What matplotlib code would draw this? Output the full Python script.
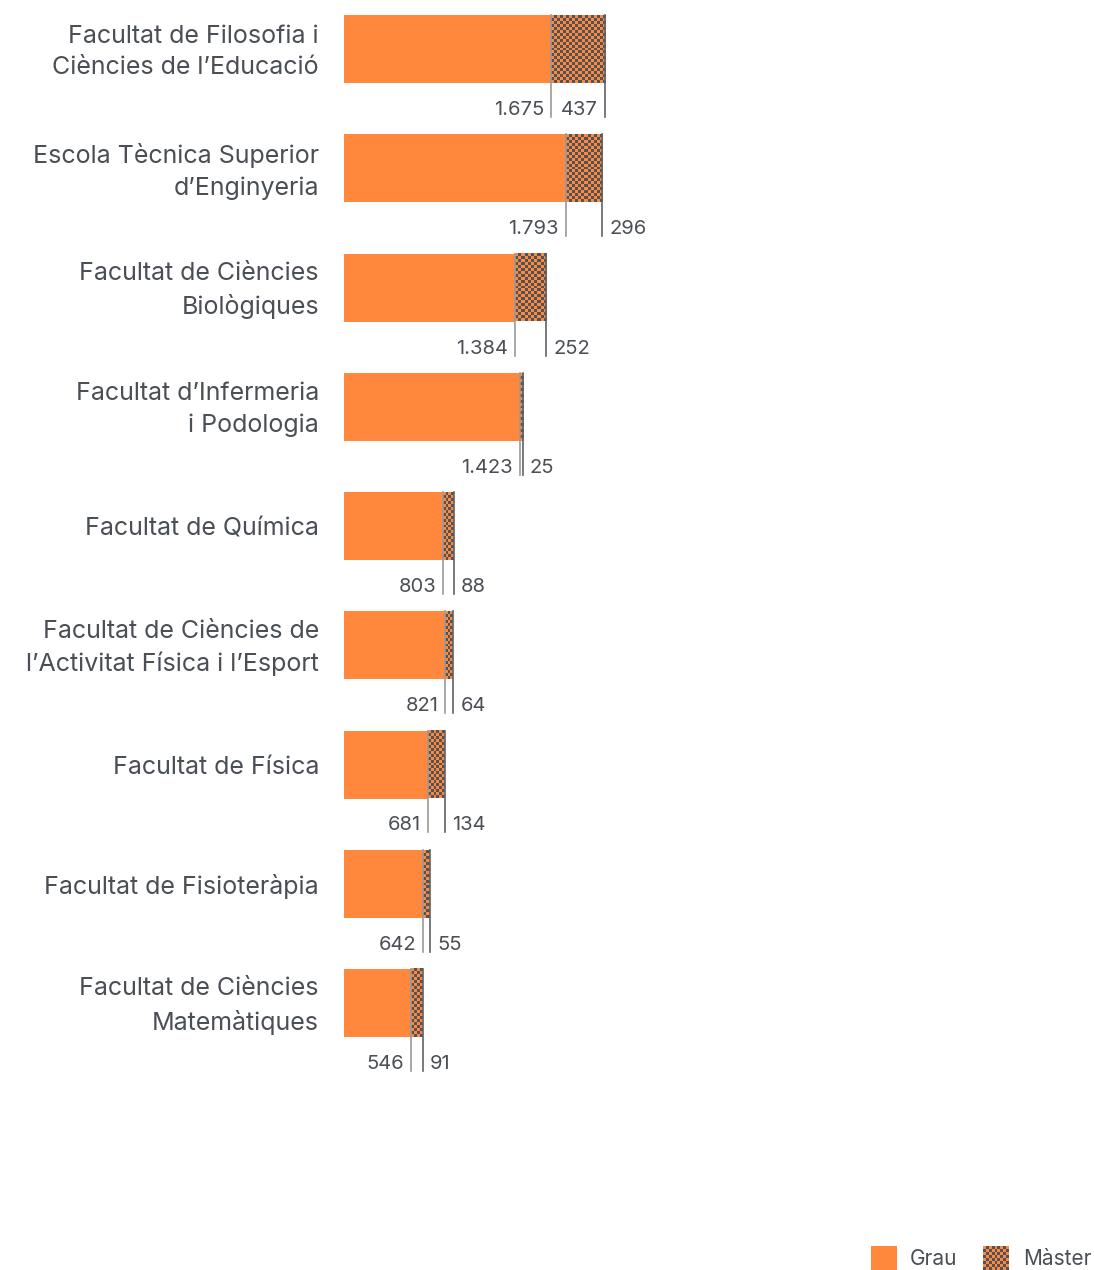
import numpy as np
import matplotlib.pyplot as plt
from matplotlib.colors import ListedColormap

# Students per faculty (Grau / Màster)
faculties = [
    "Facultat de Filosofia i\nCiències de l\u2019Educació",
    "Escola Tècnica Superior\nd\u2019Enginyeria",
    "Facultat de Ciències\nBiològiques",
    "Facultat d\u2019Infermeria\ni Podologia",
    "Facultat de Química",
    "Facultat de Ciències de\nl\u2019Activitat Física i l\u2019Esport",
    "Facultat de Física",
    "Facultat de Fisioteràpia",
    "Facultat de Ciències\nMatemàtiques",
]
grau = [1675, 1793, 1384, 1423, 803, 821, 681, 642, 546]
master = [437, 296, 252, 25, 88, 64, 134, 55, 91]
legend_labels = ["Grau", "Màster"]

ORANGE = "#FF883C"
GRAY = "#4F545B"
TEXT = "#4A4F56"
checker_cmap = ListedColormap([ORANGE, GRAY])

plt.rcParams['font.family'] = ['Inter', 'DejaVu Sans']


def fmt(v):
    return f"{v:,}".replace(",", ".")


def checker(ax, x0, x1, y0, y1, cell_px=3):
    """Fill a rectangle (data coords) with a checkerboard image."""
    p0 = ax.transData.transform((x0, y0))
    p1 = ax.transData.transform((x1, y1))
    nx = max(1, int(round(abs(p1[0] - p0[0]) / cell_px)))
    ny = max(1, int(round(abs(p1[1] - p0[1]) / cell_px)))
    grid = (np.add.outer(np.arange(ny), np.arange(nx)) % 2).astype(float)
    ax.imshow(grid, extent=(x0, x1, y1, y0), cmap=checker_cmap, vmin=0, vmax=1,
              interpolation='nearest', aspect='auto', zorder=2)


W, H = 1094, 1270
fig = plt.figure(figsize=(W / 100, H / 100), dpi=100)
ax = fig.add_axes([0, 0, 1, 1])

px_per_unit = 0.1236
x_left = 344
ax.set_xlim(-x_left / px_per_unit, (W - x_left) / px_per_unit)
step = 119.25
c0 = 49
ax.set_ylim((H - c0) / step, -c0 / step)
ax.axis('off')

y = np.arange(len(faculties))
bar_h = 68 / step
ax.barh(y, grau, height=bar_h, color=ORANGE, zorder=1)

for i, (g, m) in enumerate(zip(grau, master)):
    y_top = i - bar_h / 2
    y_bot = i + bar_h / 2
    checker(ax, g, g + m, y_top, y_bot)
    line_end = y_bot + 34 / step
    ax.plot([g, g], [y_top, line_end], color="#9A9A9A", lw=1.2, zorder=3)
    ax.plot([g + m, g + m], [y_top, line_end], color="#5F6368", lw=1.2, zorder=3)
    ty = i + 61 / step
    ax.text(g - 7 / px_per_unit, ty, fmt(g), ha='right', va='center',
            fontsize=14.5, color=TEXT)
    if m * px_per_unit > 45:
        # wide enough: label sits inside the master span
        ax.text(g + m - 7 / px_per_unit, ty, fmt(m), ha='right', va='center',
                fontsize=14.5, color=TEXT)
    else:
        ax.text(g + m + 7 / px_per_unit, ty, fmt(m), ha='left', va='center',
                fontsize=14.5, color=TEXT)
    ax.text(-25 / px_per_unit, i + 3 / step, faculties[i], ha='right', va='center',
            fontsize=18, color=TEXT, linespacing=1.46)

ax.set_xlim(-x_left / px_per_unit, (W - x_left) / px_per_unit)
ax.set_ylim((H - c0) / step, -c0 / step)

# legend
sq1 = fig.add_axes([871 / W, 1 - 1270 / H, 26 / W, 24 / H])
sq1.add_patch(plt.Rectangle((0, 0), 1, 1, color=ORANGE))
sq1.set_xlim(0, 1)
sq1.set_ylim(0, 1)
sq1.axis('off')
sq2 = fig.add_axes([983 / W, 1 - 1270 / H, 26 / W, 24 / H])
g2 = (np.add.outer(np.arange(8), np.arange(9)) % 2).astype(float)
sq2.imshow(g2, cmap=checker_cmap, vmin=0, vmax=1, interpolation='nearest',
           aspect='auto')
sq2.axis('off')
fig.text(910 / W, 1 - 1259 / H, legend_labels[0], ha='left', va='center',
         fontsize=15, color=TEXT)
fig.text(1023 / W, 1 - 1259 / H, legend_labels[1], ha='left', va='center',
         fontsize=15, color=TEXT)

fig.savefig("out.png", dpi=100)
